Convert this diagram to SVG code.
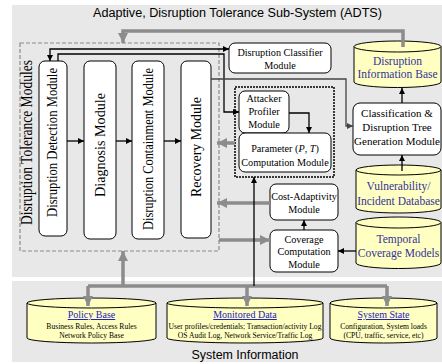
<svg xmlns="http://www.w3.org/2000/svg" width="442" height="364" viewBox="0 0 442 364">
  <defs>
    <marker id="ah" viewBox="0 0 6 6" refX="6" refY="3" markerWidth="6" markerHeight="6" markerUnits="userSpaceOnUse" orient="auto-start-reverse">
      <path d="M0,0 L6,3 L0,6 z" fill="#000"/>
    </marker>
    <marker id="ahd" viewBox="0 0 6 6" refX="6" refY="3" markerWidth="6" markerHeight="6" markerUnits="userSpaceOnUse" orient="auto">
      <path d="M0,0 L6,3 L0,6 z" fill="#444"/>
    </marker>
    <marker id="ahg" viewBox="0 0 10 10" refX="10" refY="5" markerWidth="10" markerHeight="10" markerUnits="userSpaceOnUse" orient="auto">
      <path d="M0,0 L10,5 L0,10 z" fill="#8c8c8c"/>
    </marker>
  </defs>
  <style>
    .panel { fill: #e8e8e8; }
    .box { fill: #fff; stroke: #000; stroke-width: 1; }
    .cyl { fill: #ffffc2; stroke: #000; stroke-width: 1; }
    .t { font-family: 'Liberation Serif', 'DejaVu Serif', serif; fill: #000; text-anchor: middle; }
    .m { font-size: 10.2px; }
    .v { font-size: 15px; }
    .blue { fill: #33339a; font-size: 11.5px; }
    .link { fill: #2222c4; font-size: 10px; text-decoration: underline; }
    .small { font-size: 7.6px; }
    .hdr { font-family: 'Liberation Sans', Arial, sans-serif; font-size: 12px; fill: #000; text-anchor: middle; }
    .blk { fill: none; stroke: #000; stroke-width: 1.3; }
    .dk { fill: none; stroke: #444; stroke-width: 1.3; }
    .gr { fill: none; stroke: #8c8c8c; stroke-width: 3.5; }
  </style>

  <!-- background panels -->
  <rect class="panel" x="12" y="5" width="430" height="272"/>
  <rect class="panel" x="12" y="281" width="430" height="81"/>
  <text class="hdr" x="237.5" y="17" textLength="289" lengthAdjust="spacingAndGlyphs">Adaptive, Disruption Tolerance Sub-System (ADTS)</text>
  <text class="hdr" x="245" y="359" textLength="107" lengthAdjust="spacingAndGlyphs">System Information</text>

  <g font-family="Liberation Serif, DejaVu Serif, serif">
  <!-- tolerance module group -->
  <g id="tolerance-modules">
    <rect x="20" y="43" width="199" height="208" fill="none" stroke="#8c8c8c" stroke-width="1.2" stroke-dasharray="4,2"/>
    <text class="t" font-size="16" transform="translate(32,142.5) rotate(-90)" textLength="165" lengthAdjust="spacingAndGlyphs">Disruption Tolerance Modules</text>
  </g>
  <g id="detection">
    <rect class="box" x="39" y="61" width="28" height="175" rx="6"/>
    <text class="t v" transform="translate(57,142.5) rotate(-90)" textLength="149" lengthAdjust="spacingAndGlyphs">Disruption Detection Module</text>
  </g>
  <g id="diagnosis">
    <rect class="box" x="84" y="61" width="32" height="178" rx="6"/>
    <text class="t v" transform="translate(105,145) rotate(-90)" textLength="104" lengthAdjust="spacingAndGlyphs">Diagnosis Module</text>
  </g>
  <g id="containment">
    <rect class="box" x="132" y="61" width="32" height="178" rx="6"/>
    <text class="t v" transform="translate(153,149) rotate(-90)" textLength="162" lengthAdjust="spacingAndGlyphs">Disruption  Containment Module</text>
  </g>
  <g id="recovery">
    <rect class="box" x="181" y="61" width="30" height="177" rx="6"/>
    <text class="t v" transform="translate(201,147) rotate(-90)" textLength="100" lengthAdjust="spacingAndGlyphs">Recovery Module</text>
  </g>

  <g id="classifier">
    <rect class="box" x="229" y="43" width="102" height="30" rx="6"/>
    <text class="t m" x="280" y="56">Disruption Classifier</text>
    <text class="t m" x="280" y="68.5">Module</text>
  </g>

  <g id="attack-parameter">
    <rect x="235" y="87" width="99" height="90" fill="none" stroke="#000" stroke-width="1.5" stroke-dasharray="2,1"/>
  </g>
  <g id="attacker-profiler">
    <rect class="box" x="239" y="91" width="50" height="42" rx="6"/>
    <text class="t m" x="264" y="101.5">Attacker</text>
    <text class="t m" x="264" y="114.5">Profiler</text>
    <text class="t m" x="264" y="127.5">Module</text>
  </g>
  <g id="parameter">
    <rect class="box" x="239" y="133" width="92" height="39" rx="6"/>
    <text class="t m" x="285" y="152">Parameter (<tspan font-style="italic">P</tspan>, <tspan font-style="italic">T</tspan>)</text>
    <text class="t m" x="285" y="166">Computation Module</text>
  </g>

  <g id="cost-adaptivity">
    <rect class="box" x="270" y="184" width="68" height="36" rx="6"/>
    <text class="t m" x="304" y="200">Cost-Adaptivity</text>
    <text class="t m" x="304" y="213">Module</text>
  </g>
  <g id="coverage">
    <rect class="box" x="270" y="230" width="68" height="42" rx="6"/>
    <text class="t m" x="304" y="242.5">Coverage</text>
    <text class="t m" x="304" y="255">Computation</text>
    <text class="t m" x="304" y="267.5">Module</text>
  </g>

  <g id="classification">
    <rect class="box" x="353" y="103" width="88" height="52" rx="7"/>
    <text class="t" font-size="11" x="397" y="117">Classification &amp;</text>
    <text class="t" font-size="11" x="397" y="131">Disruption Tree</text>
    <text class="t" font-size="11" x="397" y="145">Generation Module</text>
  </g>

  <!-- data stores -->
  <g id="disruption-info-base">
    <path class="cyl" d="M354,46.5 V82 A43.5,5.5 0 0 0 441,82 V46.5 Z"/>
    <ellipse class="cyl" cx="397.5" cy="46.5" rx="43.5" ry="5.5"/>
    <text class="t blue" x="397.5" y="64.5">Disruption</text>
    <text class="t blue" x="397.5" y="77.5">Information Base</text>
  </g>
  <g id="vulnerability-db">
    <path class="cyl" d="M356,170 V208 A42.5,5 0 0 0 441,208 V170 Z"/>
    <ellipse class="cyl" cx="398.5" cy="170" rx="42.5" ry="5"/>
    <text class="t blue" x="398.5" y="190">Vulnerability/</text>
    <text class="t blue" x="398.5" y="205">Incident Database</text>
  </g>
  <g id="temporal-coverage">
    <path class="cyl" d="M356,222.5 V263 A42.5,5.5 0 0 0 441,263 V222.5 Z"/>
    <ellipse class="cyl" cx="398.5" cy="222.5" rx="42.5" ry="5.5"/>
    <text class="t blue" x="398.5" y="243">Temporal</text>
    <text class="t blue" x="398.5" y="257">Coverage Models</text>
  </g>

  <g id="policy-base">
    <path class="cyl" d="M27,303 V338 A64.5,5 0 0 0 156,338 V303 Z"/>
    <ellipse class="cyl" cx="91.5" cy="303" rx="64.5" ry="5"/>
    <text class="t link" x="91.5" y="318">Policy Base</text>
    <text class="t small" x="91.5" y="329">Business Rules, Access Rules</text>
    <text class="t small" x="91.5" y="338">Network Policy Base</text>
  </g>
  <g id="monitored-data">
    <path class="cyl" d="M167,303 V338 A78,5 0 0 0 323,338 V303 Z"/>
    <ellipse class="cyl" cx="245" cy="303" rx="78" ry="5"/>
    <text class="t link" x="245" y="318">Monitored Data</text>
    <text class="t small" x="245" y="329">User profiles/credentials; Transaction/activity Log</text>
    <text class="t small" x="245" y="338">OS Audit Log, Network Service/Traffic Log</text>
  </g>
  <g id="system-state">
    <path class="cyl" d="M330,303 V338 A53.5,5 0 0 0 437,338 V303 Z"/>
    <ellipse class="cyl" cx="383.5" cy="303" rx="53.5" ry="5"/>
    <text class="t link" x="383.5" y="318">System State</text>
    <text class="t small" x="383.5" y="329">Configuration, System loads</text>
    <text class="t small" x="383.5" y="338">(CPU, traffic, service, etc)</text>
  </g>
  </g>

  <!-- connectors -->
  <g id="connectors">
    <!-- wide gray flows -->
    <polyline class="gr" points="403,47 403,31 123,31 123,43" marker-end="url(#ahg)"/>
    <polyline class="gr" points="123,286 123,251" marker-end="url(#ahg)"/>
    <polyline class="gr" points="88,286 387,286"/>
    <polyline class="gr" points="88,286 88,306" marker-end="url(#ahg)"/>
    <polyline class="gr" points="247,286 247,306" marker-end="url(#ahg)"/>
    <polyline class="gr" points="387,286 387,306" marker-end="url(#ahg)"/>
    <polyline class="gr" points="235,143 217,143" marker-end="url(#ahg)"/>
    <polyline class="gr" points="270,203 217,203" marker-end="url(#ahg)"/>
    <polyline class="gr" points="219,240 270,240" marker-end="url(#ahg)"/>

    <!-- thin black flows -->
    <polyline class="blk" points="50,61 50,49 229,49" marker-start="url(#ah)" marker-end="url(#ah)"/>
    <polyline class="blk" points="58,61 58,54 224,54 224,112 239,112" marker-end="url(#ah)"/>
    <polyline class="dk" points="211,79 346,79 346,126 353,126" marker-end="url(#ahd)"/>
    <polyline class="blk" points="67,141 84,141" marker-end="url(#ah)"/>
    <polyline class="blk" points="116,141 132,141" marker-end="url(#ah)"/>
    <polyline class="blk" points="164,141 181,141" marker-end="url(#ah)"/>
    <polyline class="blk" points="289,113 309,113 309,133" marker-end="url(#ah)"/>
    <polyline class="blk" points="254,286 254,177" marker-end="url(#ah)"/>
    <polyline class="blk" points="304,230 304,220" marker-end="url(#ah)"/>
    <polyline class="blk" points="356,251 338,251" marker-end="url(#ah)"/>
    <polyline class="blk" points="402,103 402,88" marker-end="url(#ah)"/>
    <polyline class="blk" points="402,171 402,155" marker-end="url(#ah)"/>
  </g>
</svg>
